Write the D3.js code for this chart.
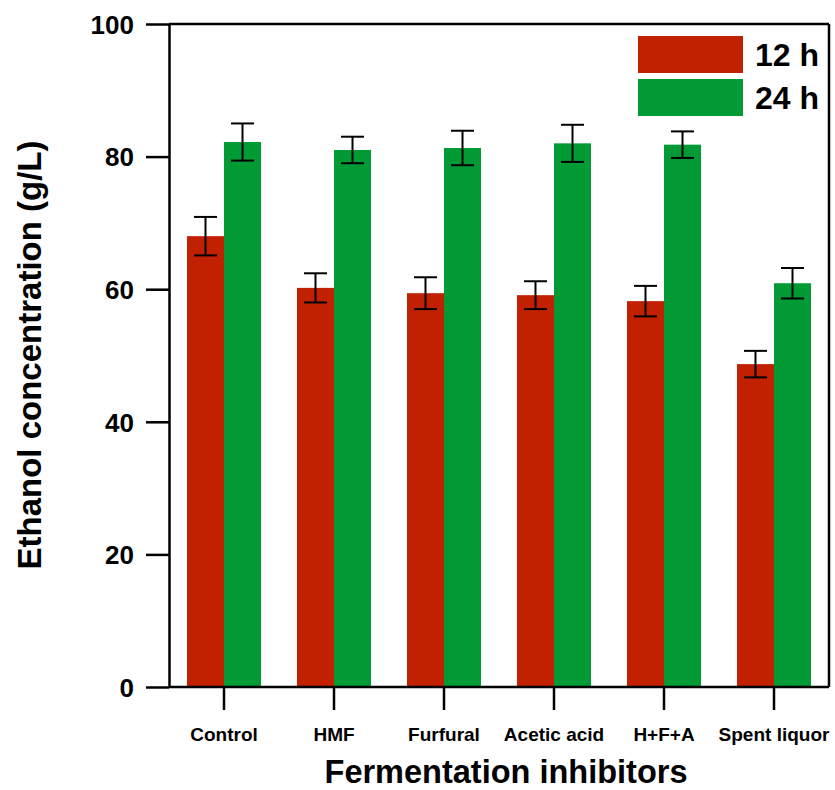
<!DOCTYPE html>
<html>
<head>
<meta charset="utf-8">
<script src="https://cdn.jsdelivr.net/npm/d3@7"></script>
<style>
  body { margin: 0; background: #fff; }
  text { font-family: Arial, "Liberation Sans", sans-serif; font-weight: bold; fill: #000; }
</style>
</head>
<body>
<svg id="chart"></svg>
<script>
// data
var categories = ["Control", "HMF", "Furfural", "Acetic acid", "H+F+A", "Spent liquor"];
var series = ["12 h", "24 h"];
var values12 = [68.0, 60.2, 59.4, 59.1, 58.2, 48.7];
var errors12 = [2.9, 2.2, 2.4, 2.1, 2.3, 2.0];
var values24 = [82.2, 81.0, 81.3, 82.0, 81.8, 60.9];
var errors24 = [2.8, 2.0, 2.6, 2.8, 2.0, 2.3];
var yTicks = [0, 20, 40, 60, 80, 100];
var colors = ["#c12100", "#029a35"];

var width = 835, height = 790;
var plotLeft = 169, plotRight = 829, plotTop = 24, plotBottom = 687;

var svg = d3.select("#chart").attr("width", width).attr("height", height);

var x0 = d3.scaleBand().domain(categories).range([plotLeft, plotRight])
    .paddingInner(0.327).paddingOuter(0.1635);
var x1 = d3.scaleBand().domain(series).range([0, x0.bandwidth()]);
var y = d3.scaleLinear().domain([0, 100]).range([plotBottom, plotTop]);
var color = d3.scaleOrdinal().domain(series).range(colors);

var rows = [];
categories.forEach(function(c, i) {
    rows.push({cat: c, s: series[0], v: values12[i], e: errors12[i]});
    rows.push({cat: c, s: series[1], v: values24[i], e: errors24[i]});
});

// bars
svg.append("g").selectAll("rect")
    .data(rows)
    .enter().append("rect")
    .attr("x", function(d) { return x0(d.cat) + x1(d.s); })
    .attr("y", function(d) { return y(d.v); })
    .attr("width", x1.bandwidth())
    .attr("height", function(d) { return y(0) - y(d.v); })
    .style("fill", function(d) { return color(d.s); });

// error bars
var capW = 11.5;
var eb = svg.append("g").selectAll("g")
    .data(rows)
    .enter().append("g")
    .attr("transform", function(d) { return "translate(" + (x0(d.cat) + x1(d.s) + x1.bandwidth() / 2) + ",0)"; })
    .style("stroke", "#000")
    .style("stroke-width", 2);
eb.append("line").attr("x1", 0).attr("x2", 0)
    .attr("y1", function(d) { return y(d.v + d.e); })
    .attr("y2", function(d) { return y(d.v - d.e); });
eb.append("line").attr("x1", -capW).attr("x2", capW)
    .attr("y1", function(d) { return y(d.v + d.e); })
    .attr("y2", function(d) { return y(d.v + d.e); });
eb.append("line").attr("x1", -capW).attr("x2", capW)
    .attr("y1", function(d) { return y(d.v - d.e); })
    .attr("y2", function(d) { return y(d.v - d.e); });

// frame: top and right lines
svg.append("line").attr("x1", plotLeft).attr("x2", plotRight).attr("y1", plotTop).attr("y2", plotTop)
    .style("stroke", "#000").style("stroke-width", 2.5);
svg.append("line").attr("x1", plotRight).attr("x2", plotRight).attr("y1", plotTop).attr("y2", plotBottom)
    .style("stroke", "#000").style("stroke-width", 2.5);

// y axis
var yAxis = svg.append("g")
    .attr("transform", "translate(" + plotLeft + ",0)")
    .call(d3.axisLeft(y).tickValues(yTicks).tickSize(23).tickPadding(12).tickSizeOuter(0));
yAxis.select(".domain").style("stroke-width", 2.5);
yAxis.selectAll(".tick line").style("stroke-width", 2.5);
yAxis.selectAll(".tick text").style("font-size", "26px").attr("dy", "0.36em")
    .style("font-family", "Arial, 'Liberation Sans', sans-serif").style("font-weight", "bold");

// x axis
var xAxis = svg.append("g")
    .attr("transform", "translate(0," + plotBottom + ")")
    .call(d3.axisBottom(x0).tickSize(23).tickPadding(18).tickSizeOuter(0));
xAxis.select(".domain").attr("d", "M" + plotLeft + ",0H" + plotRight).style("stroke-width", 2.5);
xAxis.selectAll(".tick line").style("stroke-width", 2.5);
xAxis.selectAll(".tick text").style("font-size", "19px")
    .style("font-family", "Arial, 'Liberation Sans', sans-serif").style("font-weight", "bold");

// axis titles
svg.append("text")
    .attr("transform", "translate(41,355) rotate(-90)")
    .attr("text-anchor", "middle")
    .style("font-size", "33px")
    .text("Ethanol concentration (g/L)");

svg.append("text")
    .attr("x", 506)
    .attr("y", 783)
    .attr("text-anchor", "middle")
    .style("font-size", "32.5px")
    .text("Fermentation inhibitors");

// legend
var legend = svg.append("g").selectAll("g")
    .data(series)
    .enter().append("g")
    .attr("transform", function(d, i) { return "translate(638," + (36 + i * 43) + ")"; });
legend.append("rect").attr("width", 105).attr("height", 37)
    .style("fill", function(d) { return color(d); });
legend.append("text").attr("x", 117).attr("y", 30)
    .style("font-size", "32px")
    .text(function(d) { return d; });
</script>
</body>
</html>
